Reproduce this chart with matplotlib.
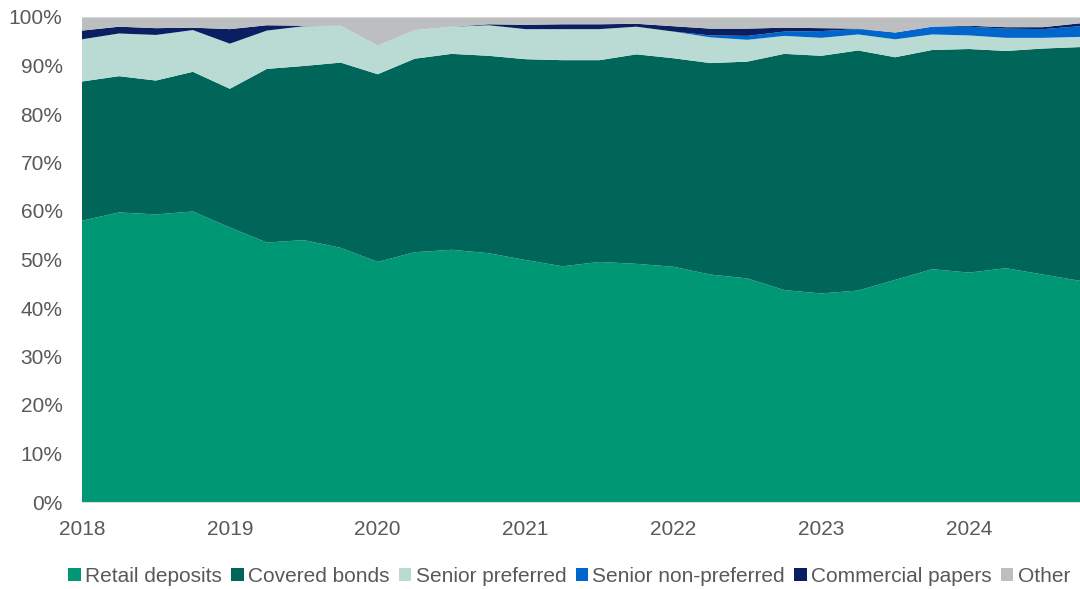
import matplotlib.pyplot as plt
from matplotlib.patches import Patch
import numpy as np

# trimestres 2018 Q1 .. 2024 Q4
trimestres = np.arange(2018, 2025, 0.25)

# parcelas em % do financiamento (leitura do grafico)
retail = [58.0, 59.7, 59.3, 59.9, 56.6, 53.5, 54.0, 52.4, 49.5, 51.5, 52.0, 51.3, 49.9, 48.6,
          49.5, 49.1, 48.5, 46.9, 46.1, 43.7, 43.0, 43.6, 45.8, 48.0, 47.3, 48.2, 46.9, 45.6]
covered_top = [86.7, 87.8, 86.9, 88.7, 85.2, 89.3, 89.9, 90.6, 88.2, 91.4, 92.4, 92.0, 91.3, 91.1,
               91.1, 92.3, 91.5, 90.5, 90.8, 92.4, 92.0, 93.1, 91.7, 93.2, 93.4, 93.0, 93.5, 93.8]
senior_top = [95.4, 96.6, 96.3, 97.3, 94.5, 97.2, 98.1, 98.2, 94.1, 97.3, 98.0, 98.3, 97.5, 97.5,
              97.5, 98.0, 97.0, 95.8, 95.3, 96.1, 95.7, 96.4, 95.4, 96.4, 96.2, 95.7, 95.7, 95.9]
senior_np = [0, 0, 0, 0, 0, 0, 0, 0, 0, 0, 0, 0, 0, 0,
             0, 0, 0, 0.4, 0.8, 0.9, 1.4, 1.1, 1.4, 1.6, 1.8, 1.9, 1.8, 2.2]
commercial = [1.8, 1.4, 1.4, 0.5, 3.0, 1.1, 0.1, 0, 0, 0, 0, 0.2, 0.9, 1.0,
              1.0, 0.6, 1.1, 1.4, 1.5, 0.8, 0.6, 0.1, 0, 0, 0.2, 0.3, 0.4, 0.6]

covered = [c - r for c, r in zip(covered_top, retail)]
senior_p = [s - c for s, c in zip(senior_top, covered_top)]
other = [100 - s - n - c for s, n, c in zip(senior_top, senior_np, commercial)]

nomes = ["Retail deposits", "Covered bonds", "Senior preferred",
         "Senior non-preferred", "Commercial papers", "Other"]
cores = ["#009775", "#00665A", "#B9DBD4", "#0066CC", "#0A1F62", "#BCBEC0"]

plt.rcParams['font.family'] = ['Liberation Sans', 'DejaVu Sans']
texto = "#595959"

fig = plt.figure(figsize=(10.8, 5.89), dpi=100)
ax = fig.add_axes([82 / 1080, 1 - 502 / 589, 1 - 82 / 1080, (502 - 17) / 589])

ax.stackplot(trimestres, retail, covered, senior_p, senior_np, commercial, other,
             colors=cores, linewidth=0)

ax.set_xlim(2018, 2024.75)
ax.set_ylim(0, 100)
ax.set_xticks(np.arange(2018, 2025))
ax.set_xticklabels([str(a) for a in range(2018, 2025)])
ax.set_yticks(np.arange(0, 101, 10))
ax.set_yticklabels([f"{v}%" for v in range(0, 101, 10)])
ax.tick_params(axis="both", length=0, labelsize=15, colors=texto)
ax.tick_params(axis="x", pad=13)
ax.tick_params(axis="y", pad=14)

for lado in ["left", "right"]:
    ax.spines[lado].set_visible(False)
ax.spines["top"].set_color("#D9D9D9")
ax.spines["bottom"].set_color("#D9D9D9")

handles = [Patch(facecolor=c, edgecolor="none") for c in cores]
fig.legend(handles, nomes, loc="center", bbox_to_anchor=(0.527, 0.021), ncol=6,
           frameon=False, fontsize=15, handlelength=0.6, handleheight=0.6,
           handletextpad=0.2, columnspacing=0.45, labelcolor=texto,
           borderpad=0.1, borderaxespad=0)

fig.savefig("out.png", dpi=100)
